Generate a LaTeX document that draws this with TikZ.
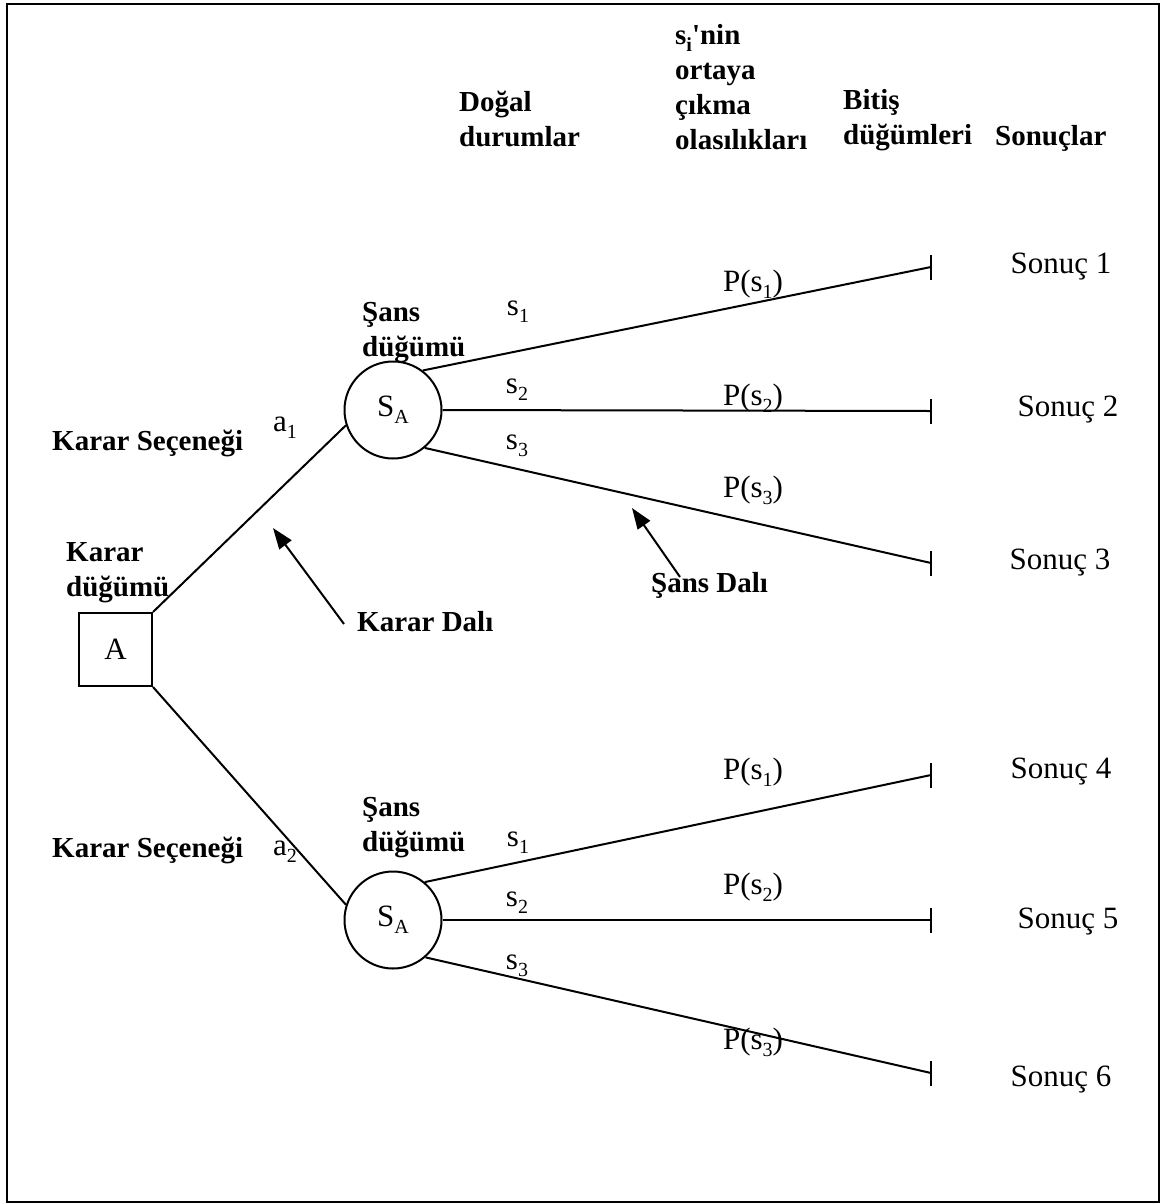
\documentclass[tikz,border=0pt]{standalone}
\usepackage{fontspec}
\setmainfont{Liberation Serif}
\usetikzlibrary{arrows.meta}
% lowered subscript in text font
\newcommand\lowsub[1]{\raisebox{-0.22em}{\fontsize{20}{20}\selectfont #1}}
\begin{document}
\begin{tikzpicture}[x=1pt,y=-1pt,
  txt/.style={font=\fontsize{31}{35}\selectfont, inner sep=0pt},
  btxt/.style={font=\fontsize{29}{35}\selectfont\bfseries, inner sep=0pt, align=left},
  chance/.style={circle, draw, line width=2pt, minimum size=97pt, inner sep=0pt,
    font=\fontsize{31}{35}\selectfont},
  decision/.style={rectangle, draw, line width=2pt, minimum size=73pt, inner sep=0pt,
    font=\fontsize{31}{35}\selectfont},
  branch/.style={line width=2pt},
  endtick/.style={line width=2pt},
  pointer/.style={line width=2pt, -{Triangle[length=21pt, width=15pt]}}]
\useasboundingbox (0,0) rectangle (1160,1203);
\draw[line width=2.5pt] (7,4) rectangle (1159,1202);

% decision and chance nodes
\node[decision] (A) at (115.5,649.5) {A};
\node[chance] (S1) at (393,410) {S\lowsub{A}};
\node[chance] (S2) at (393,920) {S\lowsub{A}};

% end nodes
\coordinate (e1) at (931,267);
\coordinate (e2) at (931,411);
\coordinate (e3) at (931,563);
\coordinate (e4) at (931,775);
\coordinate (e5) at (931,920);
\coordinate (e6) at (931,1073);
\foreach \e in {e1,e2,e3,e4,e5,e6}
  \draw[endtick] ([yshift=-12.5pt]\e) -- ([yshift=12.5pt]\e);

% decision branches
\draw[branch] (A.north east) -- (S1.198);
\draw[branch] (A.south east) -- (S2.162);

% chance branches
\draw[branch] (S1.53) -- (e1);
\draw[branch] (S1.0) -- (e2);
\draw[branch] (S1.-50) -- (e3);
\draw[branch] (S2.50) -- (e4);
\draw[branch] (S2.0) -- (e5);
\draw[branch] (S2.-49) -- (e6);

% column headings
\node[btxt, anchor=west] (h1) at (459,118.5) {Doğal\\durumlar};
\node[btxt, anchor=west] (h2) at (675,87.5) {s\lowsub{i}\textquotesingle nin\\ortaya\\çıkma\\olasılıkları};
\node[btxt, anchor=west] (h3) at (843,120.5) {Bitiş\\düğümleri};
\node[btxt, anchor=west] (h4) at (995,138) {Sonuçlar};

% bold captions
\node[btxt, anchor=west] (kd) at (66,573) {Karar\\düğümü};
\node[btxt, anchor=west] (ks1) at (52,443) {Karar Seçeneği};
\node[btxt, anchor=west] (ks2) at (52,850) {Karar Seçeneği};
\node[btxt, anchor=west] (sd1) at (362,333) {Şans\\düğümü};
\node[btxt, anchor=west] (sd2) at (362,828) {Şans\\düğümü};
\node[btxt, anchor=west] (kdal) at (357,622) {Karar Dalı};
\node[btxt, anchor=west] (sdal) at (651,585) {Şans Dalı};

% pointers
\coordinate (kdtail) at (344,624);
\coordinate (kdtip) at (273,528);
\coordinate (sdtail) at (680,577);
\coordinate (sdtip) at (632,508);
\draw[pointer] (kdtail) -- (kdtip);
\draw[pointer] (sdtail) -- (sdtip);

% decision labels
\node[txt] (a1) at (285,428) {a\lowsub{1}};
\node[txt] (a2) at (285,852) {a\lowsub{2}};

% states of nature
\node[txt] (s11) at (518,312) {s\lowsub{1}};
\node[txt] (s12) at (517,390) {s\lowsub{2}};
\node[txt] (s13) at (517,446) {s\lowsub{3}};
\node[txt] (s21) at (518,843) {s\lowsub{1}};
\node[txt] (s22) at (517,903) {s\lowsub{2}};
\node[txt] (s23) at (517,966) {s\lowsub{3}};

% probabilities
\node[txt] (p11) at (753,284) {P(s\lowsub{1})};
\node[txt] (p12) at (753,398) {P(s\lowsub{2})};
\node[txt] (p13) at (753,490) {P(s\lowsub{3})};
\node[txt] (p21) at (753,772) {P(s\lowsub{1})};
\node[txt] (p22) at (753,887) {P(s\lowsub{2})};
\node[txt] (p23) at (753,1042) {P(s\lowsub{3})};

% outcomes
\node[txt] (o1) at (1061,267) {Sonuç 1};
\node[txt] (o2) at (1068,410) {Sonuç 2};
\node[txt] (o3) at (1060,563) {Sonuç 3};
\node[txt] (o4) at (1061,772) {Sonuç 4};
\node[txt] (o5) at (1068,922) {Sonuç 5};
\node[txt] (o6) at (1061,1080) {Sonuç 6};
\end{tikzpicture}
\end{document}
